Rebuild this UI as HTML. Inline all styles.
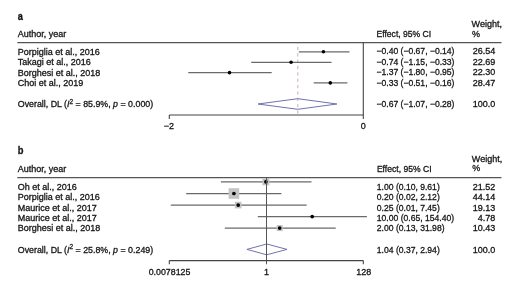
<!DOCTYPE html>
<html><head><meta charset="utf-8"><style>
html,body{margin:0;padding:0;background:#fff;}
body{width:520px;height:289px;overflow:hidden;}
svg{display:block;will-change:transform;}
text{font-family:"Liberation Sans",sans-serif;fill:#151515;stroke:#151515;stroke-width:0.3px;}
</style></head><body>
<svg width="520" height="289" viewBox="0 0 520 289">
<text transform="translate(17.7,19.5) scale(0.9,1)" x="0" y="0" font-size="10.2" text-anchor="start" font-weight="bold" >a</text>
<text x="17.7" y="36.8" font-size="9.0" text-anchor="start" font-weight="normal" >Author, year</text>
<text transform="translate(376.5,36.9) scale(0.955,1)" x="0" y="0" font-size="9.0" text-anchor="start" font-weight="normal" >Effect, 95% CI</text>
<text x="471.6" y="26.8" font-size="9.0" text-anchor="start" font-weight="normal" >Weight,</text>
<text x="472.0" y="36.8" font-size="9.0" text-anchor="start" font-weight="normal" >%</text>
<line x1="17.3" y1="42.6" x2="501.5" y2="42.6" stroke="#555" stroke-width="1.1" />
<line x1="297.8" y1="42.8" x2="297.8" y2="114.3" stroke="#c6aab5" stroke-width="0.95" stroke-dasharray="3.2,3.15" stroke-dashoffset="2.2"/>
<text x="17.8" y="54.699999999999996" font-size="9.0" text-anchor="start" font-weight="normal" >Porpiglia et al., 2016</text>
<text transform="translate(376.5,54.4) scale(0.955,1)" x="0" y="0" font-size="9.0" text-anchor="start" font-weight="normal" >−0.40 (−0.67, −0.14)</text>
<text x="495.2" y="54.4" font-size="9.0" text-anchor="end" font-weight="normal" >26.54</text>
<line x1="298.8" y1="51.8" x2="349.5" y2="51.8" stroke="#6a6a6a" stroke-width="1.25" />
<circle cx="323.40" cy="51.8" r="1.8" fill="#000"/>
<text x="17.8" y="65.1" font-size="9.0" text-anchor="start" font-weight="normal" >Takagi et al., 2016</text>
<text transform="translate(376.5,64.8) scale(0.955,1)" x="0" y="0" font-size="9.0" text-anchor="start" font-weight="normal" >−0.74 (−1.15, −0.33)</text>
<text x="495.2" y="64.8" font-size="9.0" text-anchor="end" font-weight="normal" >22.69</text>
<line x1="251.2" y1="62.25" x2="331.5" y2="62.25" stroke="#6a6a6a" stroke-width="1.25" />
<circle cx="291.10" cy="62.25" r="1.8" fill="#000"/>
<text x="17.8" y="75.5" font-size="9.0" text-anchor="start" font-weight="normal" >Borghesi et al., 2018</text>
<text transform="translate(376.5,75.2) scale(0.955,1)" x="0" y="0" font-size="9.0" text-anchor="start" font-weight="normal" >−1.37 (−1.80, −0.95)</text>
<text x="495.2" y="75.2" font-size="9.0" text-anchor="end" font-weight="normal" >22.30</text>
<line x1="188.3" y1="72.65" x2="271.7" y2="72.65" stroke="#6a6a6a" stroke-width="1.25" />
<circle cx="229.50" cy="72.65" r="1.8" fill="#000"/>
<text x="17.8" y="86.0" font-size="9.0" text-anchor="start" font-weight="normal" >Choi et al., 2019</text>
<text transform="translate(376.5,85.7) scale(0.955,1)" x="0" y="0" font-size="9.0" text-anchor="start" font-weight="normal" >−0.33 (−0.51, −0.16)</text>
<text x="495.2" y="85.7" font-size="9.0" text-anchor="end" font-weight="normal" >28.47</text>
<line x1="313.7" y1="82.9" x2="347.4" y2="82.9" stroke="#6a6a6a" stroke-width="1.25" />
<circle cx="330.30" cy="82.9" r="1.8" fill="#000"/>
<text transform="translate(17.8,106.9) scale(0.983,1)" x="0" y="0" font-size="9.0" text-anchor="start" font-weight="normal" >Overall, DL (<tspan font-style="italic">I</tspan><tspan dy="-3.4" font-size="6.6">2</tspan><tspan dy="3.4"> = 85.9%, </tspan><tspan font-style="italic">p</tspan> = 0.000)</text>
<text transform="translate(376.5,106.9) scale(0.955,1)" x="0" y="0" font-size="9.0" text-anchor="start" font-weight="normal" >−0.67 (−1.07, −0.28)</text>
<text x="495.2" y="106.9" font-size="9.0" text-anchor="end" font-weight="normal" >100.0</text>
<polygon points="258.0,104.0 297.8,98.7 336.9,104.0 297.8,109.3" fill="none" stroke="#6a6aa6" stroke-width="0.95" stroke-linejoin="miter" stroke-miterlimit="10"/>
<line x1="363.3" y1="42.3" x2="363.3" y2="118.9" stroke="#444" stroke-width="1.1" />
<line x1="169.3" y1="115.0" x2="363.3" y2="115.0" stroke="#444" stroke-width="1.1" />
<line x1="169.3" y1="115.0" x2="169.3" y2="118.9" stroke="#444" stroke-width="1.1" />
<text x="169.0" y="128.5" font-size="9.0" text-anchor="middle" font-weight="normal" >−2</text>
<text x="363.3" y="128.5" font-size="9.0" text-anchor="middle" font-weight="normal" >0</text>
<text transform="translate(17.7,154.2) scale(0.92,1)" x="0" y="0" font-size="10.2" text-anchor="start" font-weight="bold" >b</text>
<text x="17.7" y="172.1" font-size="9.0" text-anchor="start" font-weight="normal" >Author, year</text>
<text transform="translate(376.9,172.0) scale(0.955,1)" x="0" y="0" font-size="9.0" text-anchor="start" font-weight="normal" >Effect, 95% CI</text>
<text x="471.8" y="162.1" font-size="9.0" text-anchor="start" font-weight="normal" >Weight,</text>
<text x="472.2" y="171.4" font-size="9.0" text-anchor="start" font-weight="normal" >%</text>
<line x1="17.3" y1="177.6" x2="501.5" y2="177.6" stroke="#555" stroke-width="1.1" />
<text x="17.8" y="190.0" font-size="9.0" text-anchor="start" font-weight="normal" >Oh et al., 2016</text>
<text transform="translate(376.8,190.0) scale(0.955,1)" x="0" y="0" font-size="9.0" text-anchor="start" font-weight="normal" >1.00 (0.10, 9.61)</text>
<text x="495.2" y="190.0" font-size="9.0" text-anchor="end" font-weight="normal" >21.52</text>
<line x1="220.9" y1="181.8" x2="311.5" y2="181.8" stroke="#6a6a6a" stroke-width="1.25" />
<rect x="262.40" y="178.30" width="7.0" height="7.0" fill="#c4c4c4"/>
<circle cx="265.90" cy="181.8" r="1.85" fill="#000"/>
<text x="17.8" y="200.2" font-size="9.0" text-anchor="start" font-weight="normal" >Porpiglia et al., 2016</text>
<text transform="translate(376.8,200.2) scale(0.955,1)" x="0" y="0" font-size="9.0" text-anchor="start" font-weight="normal" >0.20 (0.02, 2.12)</text>
<text x="495.2" y="200.2" font-size="9.0" text-anchor="end" font-weight="normal" >44.14</text>
<line x1="186.2" y1="193.5" x2="281.4" y2="193.5" stroke="#6a6a6a" stroke-width="1.25" />
<rect x="228.60" y="188.20" width="10.6" height="10.6" fill="#c4c4c4"/>
<circle cx="233.90" cy="193.5" r="1.85" fill="#000"/>
<text x="17.8" y="210.5" font-size="9.0" text-anchor="start" font-weight="normal" >Maurice et al., 2017</text>
<text transform="translate(376.8,210.5) scale(0.955,1)" x="0" y="0" font-size="9.0" text-anchor="start" font-weight="normal" >0.25 (0.01, 7.45)</text>
<text x="495.2" y="210.5" font-size="9.0" text-anchor="end" font-weight="normal" >19.13</text>
<line x1="170.8" y1="205.1" x2="306.7" y2="205.1" stroke="#6a6a6a" stroke-width="1.25" />
<rect x="234.90" y="201.80" width="6.6" height="6.6" fill="#c4c4c4"/>
<circle cx="238.20" cy="205.1" r="1.85" fill="#000"/>
<text x="17.8" y="220.8" font-size="9.0" text-anchor="start" font-weight="normal" >Maurice et al., 2017</text>
<text transform="translate(376.8,220.8) scale(0.955,1)" x="0" y="0" font-size="9.0" text-anchor="start" font-weight="normal" >10.00 (0.65, 154.40)</text>
<text x="495.2" y="220.8" font-size="9.0" text-anchor="end" font-weight="normal" >4.78</text>
<line x1="257.8" y1="216.6" x2="366.9" y2="216.6" stroke="#6a6a6a" stroke-width="1.25" />
<circle cx="312.20" cy="216.6" r="1.85" fill="#000"/>
<text x="17.8" y="231.0" font-size="9.0" text-anchor="start" font-weight="normal" >Borghesi et al., 2018</text>
<text transform="translate(376.8,231.0) scale(0.955,1)" x="0" y="0" font-size="9.0" text-anchor="start" font-weight="normal" >2.00 (0.13, 31.98)</text>
<text x="495.2" y="231.0" font-size="9.0" text-anchor="end" font-weight="normal" >10.43</text>
<line x1="224.8" y1="228.1" x2="335.7" y2="228.1" stroke="#6a6a6a" stroke-width="1.25" />
<rect x="276.70" y="225.10" width="6.0" height="6.0" fill="#c4c4c4"/>
<circle cx="279.70" cy="228.1" r="1.85" fill="#000"/>
<text transform="translate(17.8,252.8) scale(0.983,1)" x="0" y="0" font-size="9.0" text-anchor="start" font-weight="normal" >Overall, DL (<tspan font-style="italic">I</tspan><tspan dy="-3.4" font-size="6.6">2</tspan><tspan dy="3.4"> = 25.8%, </tspan><tspan font-style="italic">p</tspan> = 0.249)</text>
<text transform="translate(376.8,252.8) scale(0.955,1)" x="0" y="0" font-size="9.0" text-anchor="start" font-weight="normal" >1.04 (0.37, 2.94)</text>
<text x="495.2" y="252.8" font-size="9.0" text-anchor="end" font-weight="normal" >100.0</text>
<polygon points="246.9,249.4 266.7,244.0 287.0,249.4 266.7,254.8" fill="none" stroke="#6a6aa6" stroke-width="0.95" stroke-linejoin="miter" stroke-miterlimit="10"/>
<line x1="266.5" y1="177.6" x2="266.5" y2="264.3" stroke="#555" stroke-width="1.0" />
<line x1="169.3" y1="260.6" x2="363.3" y2="260.6" stroke="#444" stroke-width="1.1" />
<line x1="169.3" y1="260.6" x2="169.3" y2="264.3" stroke="#444" stroke-width="1.1" />
<line x1="363.3" y1="260.6" x2="363.3" y2="264.3" stroke="#444" stroke-width="1.1" />
<text transform="translate(169.5,274.5) scale(0.98,1)" x="0" y="0" font-size="9.0" text-anchor="middle" font-weight="normal" >0.0078125</text>
<text x="266.6" y="274.5" font-size="9.0" text-anchor="middle" font-weight="normal" >1</text>
<text x="363.8" y="274.5" font-size="9.0" text-anchor="middle" font-weight="normal" >128</text>
</svg>
</body></html>
